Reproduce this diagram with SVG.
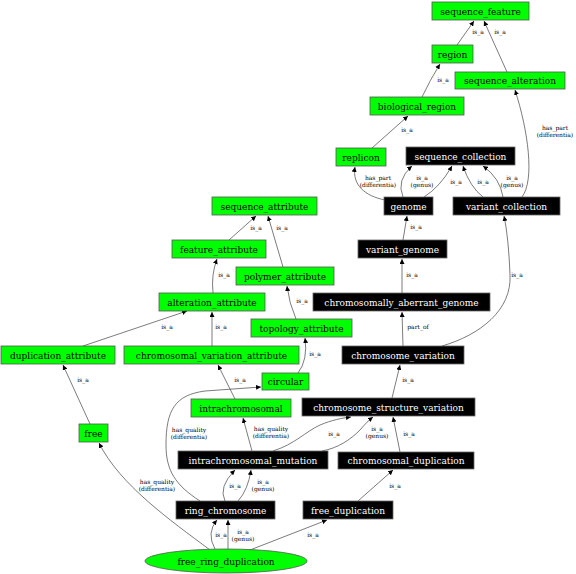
<svg xmlns="http://www.w3.org/2000/svg" width="576" height="574" viewBox="0 0 576 574">
<style>
.g rect,.g ellipse{fill:#00ff00;stroke:#555;stroke-width:0.8}
.b rect{fill:#000;stroke:#666;stroke-width:0.8}
.g text{fill:#000}
.b text{fill:#fff}
.n text{font-family:"DejaVu Serif",serif;font-size:9px;text-anchor:middle}
#edges path{fill:none;stroke:#444;stroke-width:0.7;marker-end:url(#ah)}
#edges text{font-family:"DejaVu Serif",serif;font-size:6px;text-anchor:middle;fill:#000}
</style>
<defs>
<marker id="ah" markerUnits="userSpaceOnUse" markerWidth="6" markerHeight="5" refX="5" refY="2.5" orient="auto">
<path d="M0,0 L5,2.5 L0,5 Z" fill="#000"/>
</marker>
</defs>
<rect width="576" height="574" fill="#fff"/>
<g id="edges">
<path d="M457,45 L474,21"/><text x="478" y="34">is_a</text>
<path d="M507,72 L484,21"/><text x="500" y="34">is_a</text>
<path d="M422,97 Q430,80 440,64"/><text x="443" y="82">is_a</text>
<path d="M372,148 L408,116"/><text x="407" y="132">is_a</text>
<path d="M385,200 C365,196 352,185 355,167"/><text x="378" y="180">has_part</text><text x="378" y="187">(differentia)</text>
<path d="M403,197 Q396,180 412,166"/><text x="422" y="180">is_a</text><text x="422" y="187">(genus)</text>
<path d="M424,197 Q440,187 452,166"/><text x="456" y="184">is_a</text>
<path d="M483,197 Q470,187 463,166"/><text x="483" y="184">is_a</text>
<path d="M503,197 Q500,178 483,166"/><text x="512" y="180">is_a</text><text x="512" y="187">(genus)</text>
<path d="M522,197 C535,180 528,130 515,90"/><text x="555" y="130">has_part</text><text x="555" y="137">(differentia)</text>
<path d="M283,267 L268,216"/><text x="282" y="230">is_a</text>
<path d="M229,240 L256,216"/><text x="256" y="230">is_a</text>
<path d="M213,293 Q211,275 217,259"/><text x="224" y="277">is_a</text>
<path d="M296,319 Q289,303 287,286"/><text x="302" y="303">is_a</text>
<path d="M83,346 L187,311"/><text x="167" y="329">is_a</text>
<path d="M212,346 L212,312"/><text x="221" y="329">is_a</text>
<path d="M298,373 Q308,360 305,338"/><text x="315" y="356">is_a</text>
<path d="M403,240 L407,216"/><text x="416" y="229">is_a</text>
<path d="M402,293 L402,259"/><text x="412" y="277">is_a</text>
<path d="M403,346 L402,312"/><text x="418" y="329">part_of</text>
<path d="M442,346 C480,335 512,310 510,275 C509,250 507,230 504,216"/><text x="517" y="277">is_a</text>
<path d="M392,398 L400,365"/><text x="408" y="382">is_a</text>
<path d="M90,424 L63,365"/><text x="83" y="382">is_a</text>
<path d="M235,399 L218,365"/><text x="240" y="382">is_a</text>
<path d="M252,451 L243,418"/><text x="271" y="431">has_quality</text><text x="271" y="438">(differentia)</text>
<path d="M273,451 C295,444 305,432 320,425 C332,420 342,418 351,417"/><text x="334" y="436">is_a</text>
<path d="M322,451 C338,448 350,440 360,430 C365,424 369,420 373,417"/><text x="377" y="431">is_a</text><text x="377" y="438">(genus)</text>
<path d="M400,452 L393,417"/><text x="409" y="436">is_a</text>
<path d="M358,501 L393,470"/><text x="395" y="488">is_a</text>
<path d="M225,501 Q218,487 235,470"/><text x="235" y="488">is_a</text>
<path d="M238,501 Q248,490 251,470"/><text x="263" y="484">is_a</text><text x="263" y="491">(genus)</text>
<path d="M200,501 C175,485 166,470 166,445 C166,410 175,395 205,391 L261,387"/><text x="189" y="432">has_quality</text><text x="189" y="439">(differentia)</text>
<path d="M210,550 C170,520 120,485 99,443"/><text x="157" y="484">has_quality</text><text x="157" y="491">(differentia)</text>
<path d="M215,549 Q206,533 217,520"/><text x="221" y="537">is_a</text>
<path d="M228,549 L228,520"/><text x="243" y="534">is_a</text><text x="243" y="541">(genus)</text>
<path d="M250,550 L327,520"/><text x="313" y="537">is_a</text>
</g>
<g id="sequence_feature" class="n g"><rect x="432" y="2" width="97" height="18"/><text x="480.5" y="14.5">sequence_feature</text></g>
<g id="region" class="n g"><rect x="432" y="45" width="41" height="18"/><text x="452.5" y="57.5">region</text></g>
<g id="sequence_alteration" class="n g"><rect x="455" y="72" width="110" height="17"/><text x="510" y="84">sequence_alteration</text></g>
<g id="biological_region" class="n g"><rect x="370" y="97" width="94" height="18"/><text x="417" y="109.5">biological_region</text></g>
<g id="replicon" class="n g"><rect x="336" y="148" width="50" height="18"/><text x="361" y="160.5">replicon</text></g>
<g id="sequence_collection" class="n b"><rect x="406" y="147" width="109" height="18"/><text x="460.5" y="159.5">sequence_collection</text></g>
<g id="genome" class="n b"><rect x="384" y="197" width="49" height="18"/><text x="408.5" y="209.5">genome</text></g>
<g id="variant_collection" class="n b"><rect x="453" y="197" width="107" height="18"/><text x="506.5" y="209.5">variant_collection</text></g>
<g id="sequence_attribute" class="n g"><rect x="212" y="197" width="105" height="18"/><text x="264.5" y="209.5">sequence_attribute</text></g>
<g id="feature_attribute" class="n g"><rect x="172" y="240" width="94" height="18"/><text x="219" y="252.5">feature_attribute</text></g>
<g id="polymer_attribute" class="n g"><rect x="236" y="267" width="98" height="18"/><text x="285" y="279.5">polymer_attribute</text></g>
<g id="variant_genome" class="n b"><rect x="358" y="240" width="89" height="18"/><text x="402.5" y="252.5">variant_genome</text></g>
<g id="alteration_attribute" class="n g"><rect x="159" y="293" width="106" height="18"/><text x="212" y="305.5">alteration_attribute</text></g>
<g id="chromosomally_aberrant_genome" class="n b"><rect x="313" y="293" width="177" height="18"/><text x="401.5" y="305.5">chromosomally_aberrant_genome</text></g>
<g id="topology_attribute" class="n g"><rect x="251" y="319" width="101" height="18"/><text x="301.5" y="331.5">topology_attribute</text></g>
<g id="duplication_attribute" class="n g"><rect x="1" y="346" width="114" height="18"/><text x="58" y="358.5">duplication_attribute</text></g>
<g id="chromosomal_variation_attribute" class="n g"><rect x="124" y="346" width="175" height="18"/><text x="211.5" y="358.5">chromosomal_variation_attribute</text></g>
<g id="chromosome_variation" class="n b"><rect x="342" y="346" width="122" height="18"/><text x="403" y="358.5">chromosome_variation</text></g>
<g id="circular" class="n g"><rect x="262" y="373" width="47" height="17"/><text x="285.5" y="385">circular</text></g>
<g id="intrachromosomal" class="n g"><rect x="191" y="399" width="100" height="18"/><text x="241" y="411.5">intrachromosomal</text></g>
<g id="chromosome_structure_variation" class="n b"><rect x="302" y="398" width="173" height="18"/><text x="388.5" y="410.5">chromosome_structure_variation</text></g>
<g id="free" class="n g"><rect x="79" y="424" width="29" height="18"/><text x="93.5" y="436.5">free</text></g>
<g id="intrachromosomal_mutation" class="n b"><rect x="178" y="451" width="150" height="18"/><text x="253" y="463.5">intrachromosomal_mutation</text></g>
<g id="chromosomal_duplication" class="n b"><rect x="338" y="452" width="136" height="17"/><text x="406" y="464">chromosomal_duplication</text></g>
<g id="ring_chromosome" class="n b"><rect x="176" y="501" width="99" height="18"/><text x="225.5" y="513.5">ring_chromosome</text></g>
<g id="free_duplication" class="n b"><rect x="303" y="501" width="90" height="18"/><text x="348" y="513.5">free_duplication</text></g>
<g id="free_ring_duplication" class="n g"><ellipse cx="226" cy="561" rx="81" ry="12"/><text x="226" y="564.5">free_ring_duplication</text></g>
</svg>
